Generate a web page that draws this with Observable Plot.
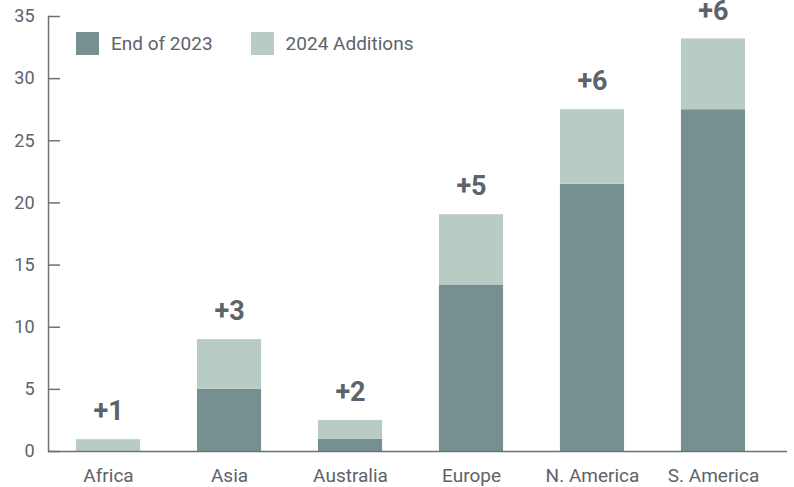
<!DOCTYPE html>
<html>
<head>
<meta charset="utf-8">
<script src="https://cdn.jsdelivr.net/npm/d3@7"></script>
<script src="https://cdn.jsdelivr.net/npm/@observablehq/plot@0.6"></script>
<style>
  html, body { margin: 0; padding: 0; background: #fff; }
  #wrap { position: relative; width: 794px; height: 487px; font-family: Roboto, "Noto Sans", sans-serif; }
  #legend { position: absolute; left: 76px; top: 32px; display: flex; align-items: center; font-size: 19px; color: #5c636b; }
  #legend .item { display: flex; align-items: center; }
  #legend .sw { width: 23px; height: 23px; margin-right: 12px; }
  svg { overflow: visible; }
</style>
</head>
<body>
<div id="wrap">
  <div id="chart"></div>
  <div id="legend"></div>
</div>
<script>
const regions = ["Africa", "Asia", "Australia", "Europe", "N. America", "S. America"];
const seriesNames = ["End of 2023", "2024 Additions"];
const endOf2023 = [0, 5, 1, 13.4, 21.5, 27.5];
const additions2024 = [0.95, 4, 1.5, 5.65, 6, 5.7];
const changeLabels = ["+1", "+3", "+2", "+5", "+6", "+6"];
const seriesColors = ["#768f91", "#b8ccc4"];
const yTicks = [0, 5, 10, 15, 20, 25, 30, 35];

const rows = [];
regions.forEach((r, i) => {
  rows.push({region: r, series: seriesNames[0], value: endOf2023[i]});
  rows.push({region: r, series: seriesNames[1], value: additions2024[i]});
});
const totals = regions.map((r, i) => ({region: r, total: endOf2023[i] + additions2024[i], label: changeLabels[i]}));

const textColor = "#5c636b";
const axisColor = "#6b7178";

const chart = Plot.plot({
  width: 794,
  height: 487,
  marginLeft: 48,
  marginRight: 7,
  marginTop: 16,
  marginBottom: 36,
  style: {fontFamily: "Roboto, 'Noto Sans', sans-serif", color: textColor, background: "#fff"},
  x: {domain: regions, paddingInner: 0.47, paddingOuter: 0.289, align: 0.4, round: false, label: null},
  y: {domain: [0, 35], label: null},
  color: {domain: seriesNames, range: seriesColors},
  marks: [
    Plot.barY(rows, {x: "region", y: "value", fill: "series", order: seriesNames}),
    Plot.frame({anchor: "left", stroke: axisColor, strokeWidth: 1.5, strokeOpacity: 1}),
    Plot.ruleY([0], {stroke: axisColor, strokeWidth: 1.5}),
    Plot.axisY({ticks: yTicks, tickSize: 0, tickPadding: 14, fontSize: 18, fill: textColor, label: null}),
    Plot.axisY({ticks: yTicks, tickSize: 12, dx: 12, tickFormat: () => "", stroke: axisColor, strokeWidth: 1.5, label: null}),
    Plot.axisX({tickSize: 0, tickPadding: 17, fontSize: 19, fill: textColor, label: null}),
    Plot.text(totals, {x: "region", y: "total", text: "label", dy: -28, fontSize: 27, fontWeight: "bold", fill: textColor})
  ]
});
document.getElementById("chart").appendChild(chart);

const legend = document.getElementById("legend");
seriesNames.forEach((name, i) => {
  const item = document.createElement("div");
  item.className = "item";
  if (i > 0) item.style.marginLeft = "38px";
  const sw = document.createElement("div");
  sw.className = "sw";
  sw.style.background = seriesColors[i];
  const label = document.createElement("span");
  label.textContent = name;
  item.appendChild(sw);
  item.appendChild(label);
  legend.appendChild(item);
});
</script>
</body>
</html>
